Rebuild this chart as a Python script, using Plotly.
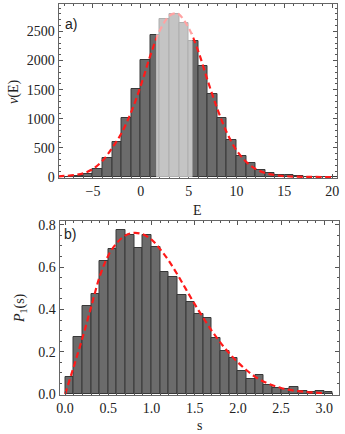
import plotly.graph_objects as go

# panel a) : histogram of energies nu(E), bins of width 1
e_left = list(range(-9, 21))
e_counts = [3, 6, 18, 55, 140, 320, 598, 1022, 1505, 2005, 2440, 2710, 2790, 2650,
            2330, 1915, 1425, 1010, 635, 370, 235, 115, 72, 44, 32, 16, 9, 5, 3, 2]
e_window = [1.6, 5.4]

# dashed curve for panel a)
e_curve_x = [-8.6, -8, -7, -6, -5, -4, -3, -2, -1, 0, 1, 2, 3, 3.6, 4, 5, 6, 7, 8,
             9, 10, 11, 12, 13, 14, 15, 16, 17, 18, 20]
e_curve_y = [12, 20, 33, 65, 140, 280, 500, 760, 1120, 1570, 2090, 2520, 2770, 2810,
             2790, 2560, 2160, 1650, 1170, 760, 460, 265, 140, 70, 35, 18, 9, 5, 3, 1]

# panel b) : spacing distribution P1(s), bins of width 0.1
s_left = [round(0.1 * i, 1) for i in range(31)]
s_vals = [0.083, 0.270, 0.417, 0.474, 0.630, 0.687, 0.777, 0.750, 0.692, 0.754,
          0.693, 0.579, 0.553, 0.470, 0.434, 0.379, 0.359, 0.266, 0.206, 0.170,
          0.110, 0.072, 0.091, 0.041, 0.030, 0.023, 0.035, 0.013, 0.011, 0.014, 0.009]

s_curve_x = [0.0, 0.1, 0.2, 0.3, 0.4, 0.5, 0.6, 0.7, 0.8, 0.9, 1.0, 1.1, 1.2, 1.3,
             1.4, 1.5, 1.6, 1.7, 1.8, 1.9, 2.0, 2.1, 2.2, 2.3, 2.4, 2.5, 2.6, 2.7,
             2.8, 2.9, 3.0]
s_curve_y = [0.0, 0.13, 0.265, 0.41, 0.555, 0.655, 0.715, 0.75, 0.762, 0.755, 0.73,
             0.685, 0.63, 0.565, 0.495, 0.425, 0.36, 0.298, 0.242, 0.193, 0.15,
             0.113, 0.082, 0.059, 0.042, 0.029, 0.020, 0.014, 0.010, 0.007, 0.005]

W, H = 345, 434
BAR = "#6b6b6b"
EDGE = "#383838"
RED = "#ff1a1a"
DASH = "6px,3.5px"
SERIF = "Liberation Serif"

fig = go.Figure()

fig.add_trace(go.Bar(x=e_left, y=e_counts, width=1, offset=0,
                     marker=dict(color=BAR, line=dict(color=EDGE, width=1)),
                     xaxis="x", yaxis="y"))
fig.add_trace(go.Scatter(x=e_curve_x, y=e_curve_y, mode="lines", line_shape="spline",
                         line=dict(color=RED, width=2.2, dash=DASH),
                         xaxis="x", yaxis="y"))

fig.add_trace(go.Bar(x=s_left, y=s_vals, width=0.1, offset=0,
                     marker=dict(color=BAR, line=dict(color=EDGE, width=1)),
                     xaxis="x2", yaxis="y2"))
fig.add_trace(go.Scatter(x=s_curve_x, y=s_curve_y, mode="lines", line_shape="spline",
                         line=dict(color=RED, width=2.2, dash=DASH),
                         xaxis="x2", yaxis="y2"))

# light window over the central part of panel a)
fig.add_shape(type="rect", xref="x", yref="y", x0=e_window[0], x1=e_window[1],
              y0=0, y1=2900, fillcolor="rgba(255,255,255,0.6)",
              line=dict(width=0), layer="above")

axis_common = dict(showline=True, linecolor="#666", linewidth=1, mirror="allticks",
                   ticks="inside", ticklen=4, tickcolor="#555", tickwidth=1,
                   showgrid=False, zeroline=False, automargin=False,
                   tickfont=dict(family=SERIF, size=14, color="#222"))


def px2x(p):
    return p / W


def px2y(p):
    return 1 - p / H


fig.update_layout(
    width=W, height=H, margin=dict(l=0, r=0, t=0, b=0),
    paper_bgcolor="white", plot_bgcolor="white", showlegend=False,
    bargap=0,
    xaxis=dict(axis_common, domain=[px2x(58.5), px2x(337)], range=[-8.6, 20.5],
               tickvals=[-5, 0, 5, 10, 15, 20],
               minor=dict(dtick=1, tick0=0, ticks="inside", ticklen=2, tickcolor="#555")),
    yaxis=dict(axis_common, domain=[px2y(178), px2y(4)], range=[-15, 2970],
               tickvals=[0, 500, 1000, 1500, 2000, 2500],
               minor=dict(dtick=100, tick0=0, ticks="inside", ticklen=2, tickcolor="#555")),
    xaxis2=dict(axis_common, anchor="y2", domain=[px2x(59.5), px2x(339)],
                range=[-0.065, 3.17], tickvals=[0, 0.5, 1, 1.5, 2, 2.5, 3],
                ticktext=["0.0", "0.5", "1.0", "1.5", "2.0", "2.5", "3.0"],
                minor=dict(dtick=0.1, tick0=0, ticks="inside", ticklen=2, tickcolor="#555")),
    yaxis2=dict(axis_common, anchor="x2", domain=[px2y(395), px2y(221)],
                range=[-0.004, 0.818], tickvals=[0, 0.2, 0.4, 0.6, 0.8],
                ticktext=["0.0", "0.2", "0.4", "0.6", "0.8"],
                minor=dict(dtick=0.05, tick0=0, ticks="inside", ticklen=2, tickcolor="#555")),
)

labels = [
    ("<i>ν</i>(E)", 14, 92, -90, SERIF),
    ("E", 197, 211, 0, SERIF),
    ("<i>P</i><sub>1</sub>(s)", 20, 308, -90, SERIF),
    ("s", 199, 425, 0, SERIF),
    ("a)", 71, 24, 0, "Liberation Sans"),
    ("b)", 70, 234, 0, "Liberation Sans"),
]
for text, x, y, ang, fam in labels:
    fig.add_annotation(text=text, x=px2x(x), y=px2y(y), xref="paper", yref="paper",
                       showarrow=False, textangle=ang, xanchor="center", yanchor="middle",
                       font=dict(family=fam, size=14, color="#222"))

# page has a default body margin; drop it so the figure sits at the corner
fig.write_html("out.html", config={"displayModeBar": False},
               post_script="document.body.style.margin='0px';")
